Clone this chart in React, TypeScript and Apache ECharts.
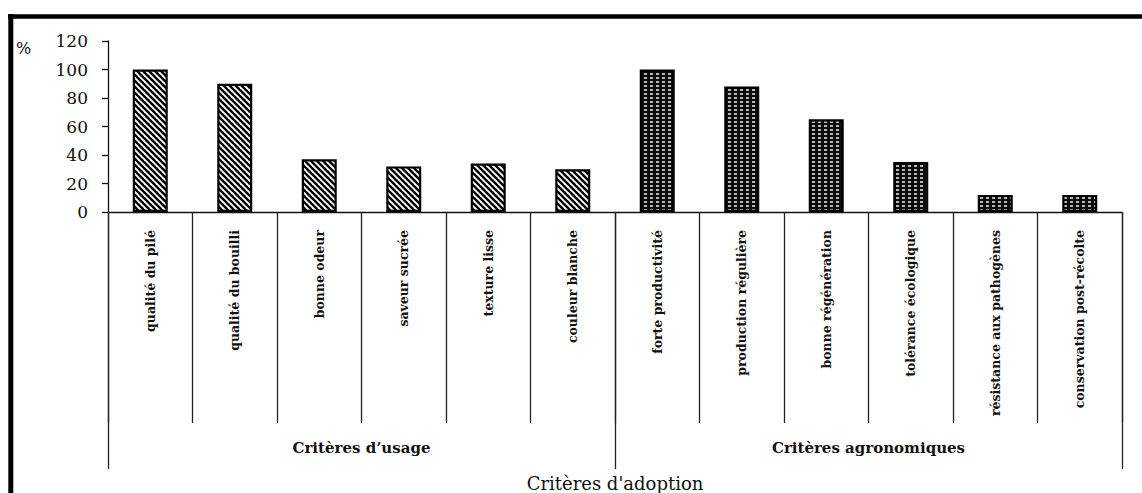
import React, { useEffect, useRef } from "react";
import * as echarts from "echarts";

const usageCategories = [
  "qualité du pilé",
  "qualité du bouilli",
  "bonne odeur",
  "saveur sucrée",
  "texture lisse",
  "couleur blanche",
];
const agroCategories = [
  "forte productivité",
  "production régulière",
  "bonne régénération",
  "tolérance écologique",
  "résistance aux pathogènes",
  "conservation post-récolte",
];
const usageValues = [100, 90, 37, 32, 34, 30];
const agroValues = [100, 88, 65, 35, 12, 12];
const groupLabels = ["Critères d’usage", "Critères agronomiques"];
const yTicks = [0, 20, 40, 60, 80, 100, 120];
const axisTitle = "Critères d'adoption";
const unitLabel = "%";

function hatchPattern() {
  const c = document.createElement("canvas");
  c.width = 6;
  c.height = 6;
  const ctx = c.getContext("2d")!;
  ctx.fillStyle = "#ffffff";
  ctx.fillRect(0, 0, 6, 6);
  ctx.strokeStyle = "#000000";
  ctx.lineWidth = 2.4;
  for (const k of [-1, 0, 1]) {
    ctx.beginPath();
    ctx.moveTo(k * 6 - 1, -1);
    ctx.lineTo(k * 6 + 7, 7);
    ctx.stroke();
  }
  return { image: c.toDataURL(), repeat: "repeat", imageWidth: 6, imageHeight: 6 };
}

function dotPattern() {
  const c = document.createElement("canvas");
  c.width = 6;
  c.height = 4;
  const ctx = c.getContext("2d")!;
  ctx.fillStyle = "#0d0d0d";
  ctx.fillRect(0, 0, 6, 4);
  ctx.fillStyle = "#b8b8b8";
  ctx.fillRect(2, 1, 3, 2);
  return { image: c.toDataURL(), repeat: "repeat", imageWidth: 6, imageHeight: 4 };
}

export default function App() {
  const ref = useRef<HTMLDivElement>(null);
  useEffect(() => {
    document.body.style.margin = "0";
    const chart = echarts.init(ref.current!, null, { renderer: "svg" });
    const hatch = hatchPattern();
    const dots = dotPattern();
    const categories = [...usageCategories, ...agroCategories];
    const data = [
      ...usageValues.map((v) => ({ value: v, itemStyle: { color: hatch as any } })),
      ...agroValues.map((v) => ({ value: v, itemStyle: { color: dots as any } })),
    ];
    const serif = "DejaVu Serif";
    chart.setOption({
      animation: false,
      backgroundColor: "#ffffff",
      grid: { left: 108, right: 20, top: 41, bottom: 281, containLabel: false },
      xAxis: [
        {
          type: "category",
          data: categories,
          position: "bottom",
          axisLine: { show: true, lineStyle: { color: "#111", width: 1.3 } },
          axisTick: { show: true, interval: 0, length: 211, lineStyle: { color: "#222", width: 1.3 } },
          axisLabel: {
            interval: 0,
            rotate: 90,
            margin: 18,
            fontFamily: serif,
            fontWeight: "bold",
            fontSize: 12.5,
            color: "#111",
          },
        },
        {
          type: "category",
          data: groupLabels,
          position: "bottom",
          offset: 0,
          axisLine: { show: false },
          axisTick: { show: true, interval: 0, length: 257, lineStyle: { color: "#222", width: 1.3 } },
          axisLabel: {
            interval: 0,
            margin: 228,
            fontFamily: serif,
            fontWeight: "bold",
            fontSize: 15,
            color: "#111",
          },
          name: axisTitle,
          nameLocation: "middle",
          nameGap: 262,
          nameTextStyle: { fontFamily: serif, fontSize: 18, color: "#111" },
        },
      ],
      yAxis: {
        type: "value",
        min: yTicks[0],
        max: yTicks[yTicks.length - 1],
        interval: 20,
        axisLine: { show: true, lineStyle: { color: "#111", width: 1.3 } },
        axisTick: { show: true, length: 6, lineStyle: { color: "#111", width: 1.3 } },
        splitLine: { show: false },
        axisLabel: { margin: 20, fontFamily: serif, fontSize: 17, color: "#111" },
      },
      graphic: [
        {
          type: "line",
          shape: { x1: 8, y1: 16.5, x2: 1142, y2: 16.5 },
          style: { stroke: "#000", lineWidth: 4.5 },
        },
        {
          type: "line",
          shape: { x1: 10.8, y1: 14, x2: 10.8, y2: 493 },
          style: { stroke: "#000", lineWidth: 5 },
        },
        {
          type: "text",
          x: 16,
          y: 40,
          style: { text: unitLabel, font: `16px "${serif}"`, fill: "#111" },
        },
      ],
      series: [
        {
          type: "bar",
          xAxisIndex: 0,
          data,
          barWidth: 35,
          itemStyle: { borderColor: "#000", borderWidth: 2.2 },
        },
      ],
    });
    return () => chart.dispose();
  }, []);
  return <div ref={ref} style={{ width: 1142, height: 493 }} />;
}
